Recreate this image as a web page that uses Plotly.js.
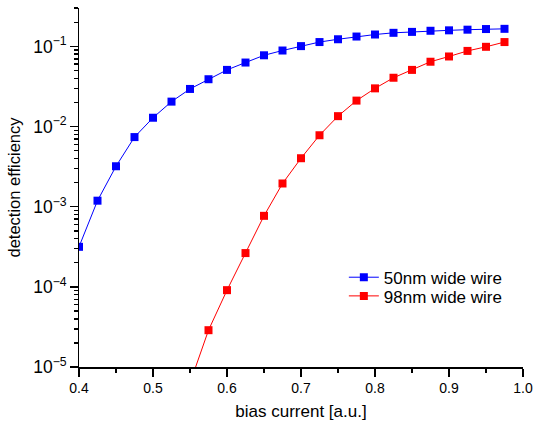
<!DOCTYPE html>
<html>
<head>
<meta charset="utf-8">
<script src="https://cdn.plot.ly/plotly-3.0.1.min.js"></script>
<style>html,body{margin:0;padding:0;background:#fff;}#chart{width:533px;height:425px;}</style>
</head>
<body>
<div id="chart"></div>
<script>
// bias current [a.u.]
const biasBlue = [0.4, 0.425, 0.45, 0.475, 0.5, 0.525, 0.55, 0.575, 0.6, 0.625, 0.65, 0.675, 0.7, 0.725, 0.75, 0.775, 0.8, 0.825, 0.85, 0.875, 0.9, 0.925, 0.95, 0.975];
const eff50nm = [3.16e-4, 1.19e-3, 3.2e-3, 7.4e-3, 0.0129, 0.0205, 0.0295, 0.039, 0.051, 0.063, 0.0776, 0.089, 0.101, 0.1135, 0.123, 0.133, 0.141, 0.148, 0.152, 0.157, 0.159, 0.162, 0.165, 0.166];
const biasRed = [0.55, 0.575, 0.6, 0.625, 0.65, 0.675, 0.7, 0.725, 0.75, 0.775, 0.8, 0.825, 0.85, 0.875, 0.9, 0.925, 0.95, 0.975];
const eff98nm = [6.3e-6, 2.88e-5, 9.1e-5, 2.64e-4, 7.7e-4, 1.95e-3, 4.03e-3, 7.8e-3, 0.0135, 0.0211, 0.030, 0.0407, 0.051, 0.0645, 0.075, 0.088, 0.099, 0.1135];
const seriesNames = ["50nm wide wire", "98nm wide wire"];
const xTitle = "bias current [a.u.]";
const yTitle = "detection efficiency";

const font = "Liberation Sans, Arial, sans-serif";

const traces = [
  {x: biasBlue, y: eff50nm, name: seriesNames[0], type: "scatter", mode: "lines+markers", legend: "legend",
   line: {color: "#0000ff", width: 1}, marker: {symbol: "square", size: 8, color: "#0000ff"}},
  {x: biasRed, y: eff98nm, name: seriesNames[1], type: "scatter", mode: "lines+markers", legend: "legend2",
   line: {color: "#ff0000", width: 1}, marker: {symbol: "square", size: 8, color: "#ff0000"}}
];

const legendBase = {xanchor: "left", yanchor: "top", bgcolor: "rgba(0,0,0,0)",
                    font: {family: font, size: 17, color: "#000"}};

const layout = {
  width: 533, height: 425,
  margin: {l: 79, r: 10, t: 8, b: 58, pad: 0},
  paper_bgcolor: "#fff", plot_bgcolor: "#fff",
  font: {family: font, color: "#000", size: 14},
  showlegend: true,
  legend: Object.assign({x: 0.5965, y: 0.299}, legendBase),
  legend2: Object.assign({x: 0.5965, y: 0.247}, legendBase),
  xaxis: {
    range: [0.4, 1.0], tickmode: "linear", tick0: 0.4, dtick: 0.1, tickformat: ".1f",
    showline: true, linecolor: "#000", linewidth: 1.5, mirror: false,
    ticks: "outside", ticklen: 8, tickwidth: 1.5, tickcolor: "#000",
    showgrid: false, zeroline: false,
    minor: {ticks: "outside", ticklen: 4, tickwidth: 1.5, tickcolor: "#000", dtick: 0.05, tick0: 0.4, showgrid: false},
    tickfont: {size: 14},
    title: {text: xTitle, font: {size: 17}, standoff: 10}
  },
  yaxis: {
    type: "log", range: [-5, -0.52], dtick: 1, exponentformat: "power",
    showline: true, linecolor: "#000", linewidth: 1.5, mirror: false,
    ticks: "outside", ticklen: 8, tickwidth: 1.5, tickcolor: "#000",
    showgrid: false, zeroline: false,
    minor: {ticks: "outside", ticklen: 4, tickwidth: 1.5, tickcolor: "#000", dtick: "D1", showgrid: false},
    tickfont: {size: 14},
    title: {text: yTitle, font: {size: 16.5}, standoff: 8}
  }
};

Plotly.newPlot("chart", traces, layout, {displayModeBar: false, staticPlot: true});
</script>
</body>
</html>
